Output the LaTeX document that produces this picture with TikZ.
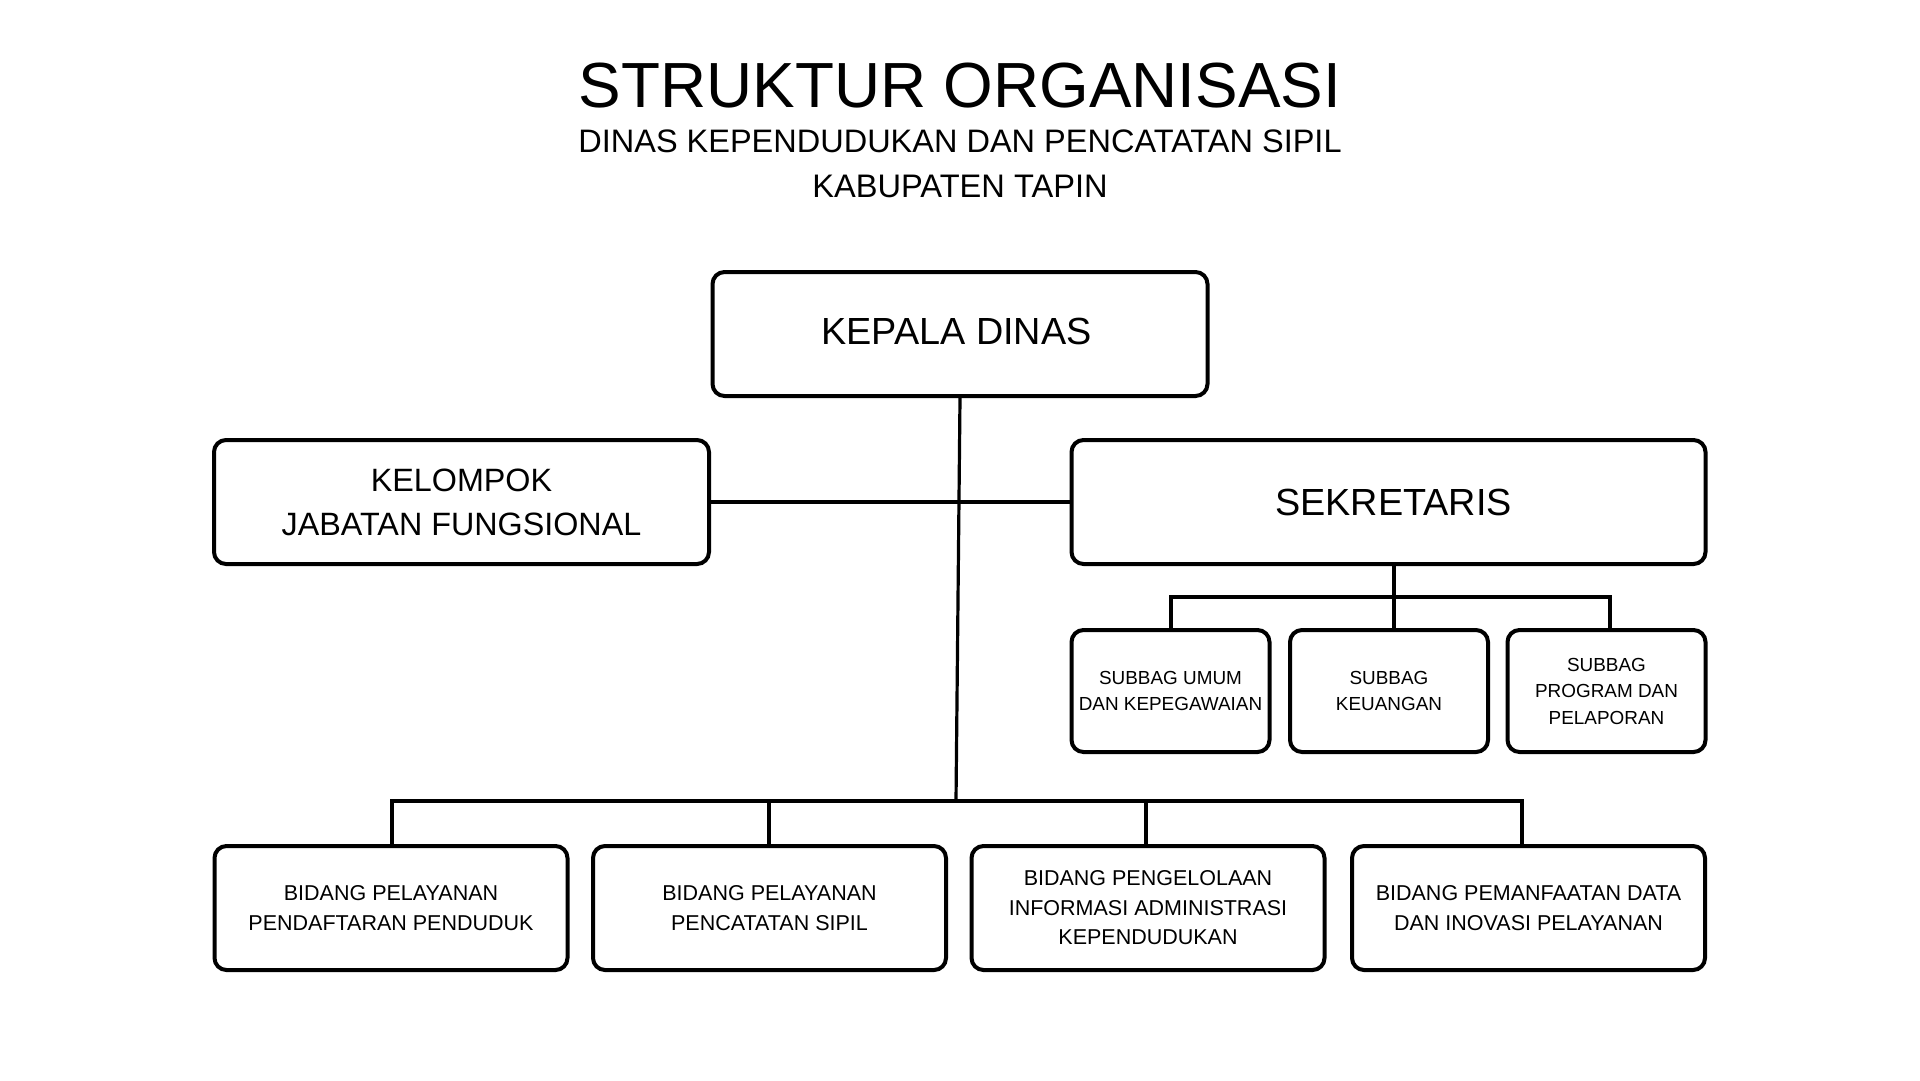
\documentclass[tikz,border=0pt]{standalone}
\usepackage{fontspec}
\setmainfont{Liberation Sans}
\begin{document}
\begin{tikzpicture}[x=1pt,y=-1pt,
  box/.style={draw=black,line width=4pt,rounded corners=12pt,inner sep=0pt,align=center},
  bigbox/.style={box,minimum width=495pt,minimum height=124pt},
  subbox/.style={box,minimum width=198pt,minimum height=122pt,font=\fontsize{18.9}{26.5}\selectfont},
  bidbox/.style={box,minimum width=353pt,minimum height=124pt,font=\fontsize{21.5}{29.5}\selectfont},
  thin/.style={line width=3.2pt},
  bus/.style={line width=4pt}]
\useasboundingbox (0,0) rectangle (1920,1080);
\fill[white] (0,0) rectangle (1920,1080);

% titles
\node[anchor=base,inner sep=0pt] (title) at (960,107) {\fontsize{63.8}{70}\selectfont STRUKTUR ORGANISASI};
\node[anchor=base,inner sep=0pt] (sub1) at (960,152) {\fontsize{32.5}{38}\selectfont DINAS KEPENDUDUKAN DAN PENCATATAN SIPIL};
\node[anchor=base,inner sep=0pt] (sub2) at (960,197) {\fontsize{32.6}{38}\selectfont KABUPATEN TAPIN};

% main boxes
\node[bigbox,font=\fontsize{37.8}{44}\selectfont] (kd) at (960,334) {\raisebox{5pt}{KEPALA DINAS}\hspace*{7pt}};
\node[bigbox,font=\fontsize{32.3}{44}\selectfont] (kjf) at (461.5,502) {KELOMPOK\\JABATAN FUNGSIONAL};
\node[bigbox,minimum width=634pt,font=\fontsize{37.8}{44}\selectfont] (sek) at (1388.5,502) {\hspace*{10pt}\raisebox{-5pt}{SEKRETARIS}};

% subbag boxes
\node[subbox] (s1) at (1170.5,691) {SUBBAG UMUM\\DAN KEPEGAWAIAN};
\node[subbox] (s2) at (1389,691) {SUBBAG\\KEUANGAN};
\node[subbox] (s3) at (1606.5,691) {SUBBAG\\PROGRAM DAN\\PELAPORAN};

% bidang boxes
\node[bidbox] (b1) at (391,908) {BIDANG PELAYANAN\\PENDAFTARAN PENDUDUK};
\node[bidbox] (b2) at (769.5,908) {BIDANG PELAYANAN\\PENCATATAN SIPIL};
\node[bidbox] (b3) at (1148,908) {BIDANG PENGELOLAAN\\INFORMASI ADMINISTRASI\\KEPENDUDUKAN};
\node[bidbox] (b4) at (1528.5,908) {BIDANG PEMANFAATAN DATA\\DAN INOVASI PELAYANAN};

% connector points
\coordinate (busC) at (956,801);
\coordinate (busL) at (392,801);
\coordinate (busR) at (1522,801);
\coordinate (busM2) at (769,801);
\coordinate (busM3) at (1146,801);
\coordinate (sj) at (1394,597);
\coordinate (sL) at (1170.6,597);
\coordinate (sR) at (1609.5,597);

% connectors
\draw[thin] (kd.south) -- (busC);
\draw[thin] (kjf.east) -- (sek.west);
\draw[bus] (busL |- b1.north) -- (busL) -- (busR) -- (busR |- b4.north);
\draw[bus] (busM2) -- (busM2 |- b2.north);
\draw[bus] (busM3) -- (busM3 |- b3.north);
\draw[bus] (sj |- sek.south) -- (sj);
\draw[bus] (sL |- s1.north) -- (sL) -- (sR) -- (sR |- s3.north);
\draw[bus] (sj) -- (sj |- s2.north);
\end{tikzpicture}
\end{document}
